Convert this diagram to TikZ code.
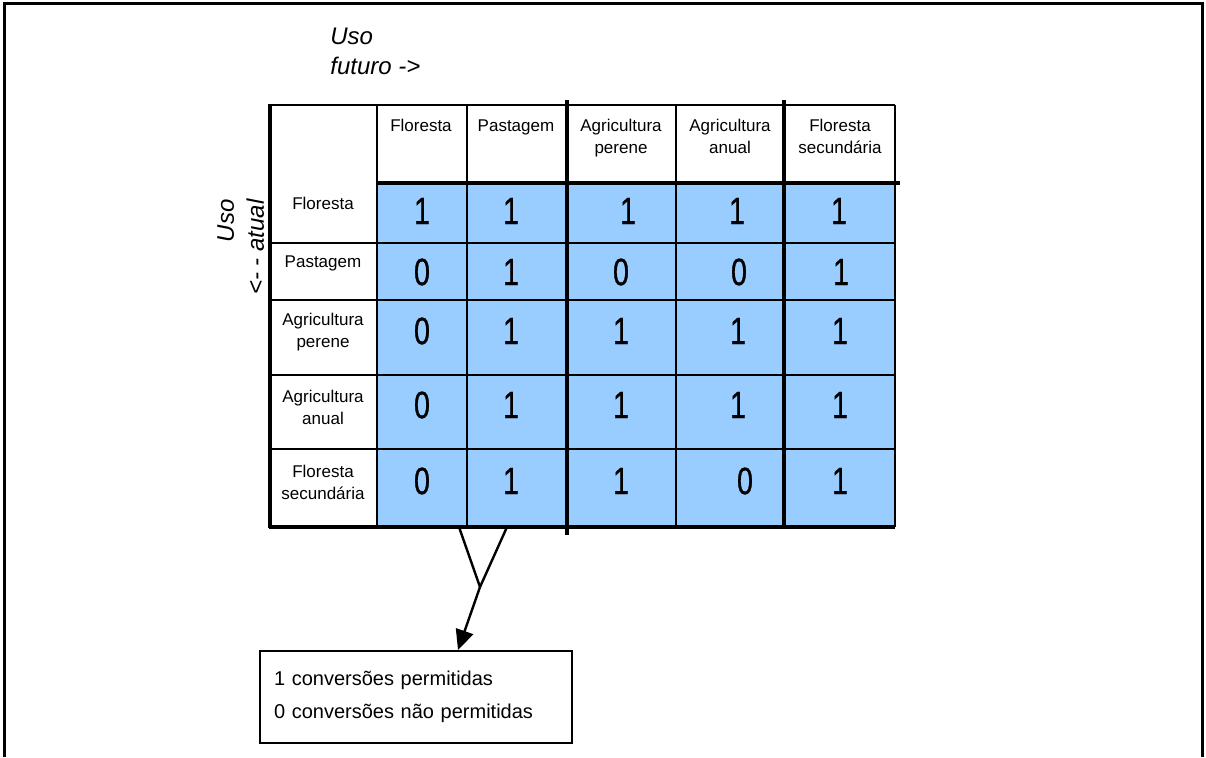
\documentclass[tikz,border=0pt]{standalone}
\usepackage{fontspec}
\setmainfont{Liberation Sans}
\newfontfamily\numfont{Liberation Sans}[FakeStretch=0.75,FakeBold=0.8]
\usetikzlibrary{arrows.meta}
\definecolor{cellblue}{RGB}{153,204,255}

\begin{document}
\begin{tikzpicture}[x=0.5pt,y=-0.5pt]
        \useasboundingbox (0,0) rectangle (1206,757);

        % frame
        \draw[line width=1.5pt] (4,757) -- (4,3) -- (1202,3) -- (1202,757);

        % table
        \fill[cellblue] (377,183) rectangle (895,527);
        \begin{scope}[line width=0.9pt]
          \draw (270,105) -- (895,105);
          \foreach \y in {243,300,375,449}
            \draw (270,\y) -- (895,\y);
          \foreach \x in {377,467,676,895}
            \draw (\x,105) -- (\x,527);
        \end{scope}
        \begin{scope}[line width=2pt]
          \draw (270,104) -- (270,528);
          \draw (377,183) -- (900,183);
          \draw (269,527) -- (895,527);
          \draw (567,100) -- (567,535);
          \draw (784,100) -- (784,527);
        \end{scope}

        % axis titles
        \node[anchor=north west, inner sep=0, align=left,
              font=\fontsize{12}{15}\selectfont\itshape] (futuro) at (330,28)
              {Uso\\futuro ->};
        \node[anchor=north east, inner sep=0, align=right, rotate=90,
              font=\fontsize{12}{15}\selectfont\itshape] (atual) at (217,199)
              {Uso\\<- - atual};

        % column and row heads
        \begin{scope}[every node/.style={anchor=north, inner sep=0, align=center,
                      font=\fontsize{8.5}{11}\selectfont}]
          \node (c1) at (421,119) {Floresta};
          \node (c2) at (516,119) {Pastagem};
          \node (c3) at (621,119) {Agricultura\\perene};
          \node (c4) at (730,119) {Agricultura\\anual};
          \node (c5) at (840,119) {Floresta\\secundária};
          \node (r1) at (323,197) {Floresta};
          \node (r2) at (323,255) {Pastagem};
          \node (r3) at (323,313) {Agricultura\\perene};
          \node (r4) at (323,390) {Agricultura\\anual};
          \node (r5) at (323,465) {Floresta\\secundária};
        \end{scope}

        % values
        \begin{scope}[every node/.style={inner sep=0, font=\fontsize{19}{19}\numfont}]
          \node (11) at (422,211) {1};
          \node (12) at (511,211) {1};
          \node (13) at (628,211) {1};
          \node (14) at (737,211) {1};
          \node (15) at (839,211) {1};
          \node (21) at (422,272) {0};
          \node (22) at (511,272) {1};
          \node (23) at (621,272) {0};
          \node (24) at (739,272) {0};
          \node (25) at (841,272) {1};
          \node (31) at (422,331) {0};
          \node (32) at (511,331) {1};
          \node (33) at (621,331) {1};
          \node (34) at (738,331) {1};
          \node (35) at (840,331) {1};
          \node (41) at (422,405) {0};
          \node (42) at (511,405) {1};
          \node (43) at (621,405) {1};
          \node (44) at (738,405) {1};
          \node (45) at (840,405) {1};
          \node (51) at (422,481) {0};
          \node (52) at (511,481) {1};
          \node (53) at (621,481) {1};
          \node (54) at (745,481) {0};
          \node (55) at (840,481) {1};
        \end{scope}

        % legend
        \node[draw, line width=1pt, anchor=north west, text width=142pt, inner xsep=7pt,
              minimum height=46pt, align=left,
              font=\fontsize{10}{16.5}\selectfont] (legend) at (259,650)
              {1 conversões permitidas\\0 conversões não permitidas};

        \coordinate (t1) at (459,527);
        \coordinate (t2) at (507,527);
        \coordinate (fork) at (480,587);
        \coordinate (tip) at (458,650);
        \draw[line width=1.2pt] (t1) -- (fork);
        \draw[line width=1.2pt] (t2) -- (fork);
        \draw[line width=1.2pt, -{Triangle[length=10pt,width=9pt]}] (fork) -- (tip);

      \end{tikzpicture}
\end{document}
